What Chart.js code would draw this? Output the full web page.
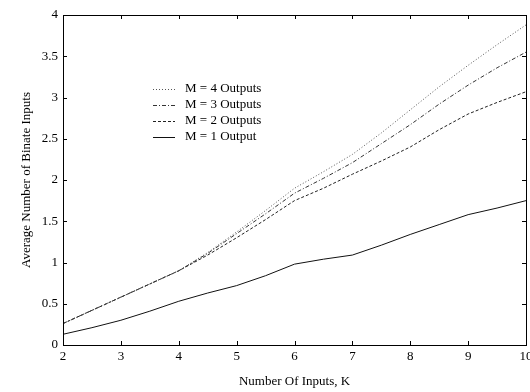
<!DOCTYPE html>
<html>
<head>
<meta charset="utf-8">
<script src="https://cdn.jsdelivr.net/npm/chart.js@4/dist/chart.umd.min.js"></script>
<style>
html,body{margin:0;padding:0;background:#fff;}
canvas{display:block;}
</style>
</head>
<body>
<canvas id="c" width="530" height="392"></canvas>
<script>
const kValues = [2, 2.5, 3, 3.5, 4, 4.5, 5, 5.5, 6, 6.5, 7, 7.5, 8, 8.5, 9, 9.5, 10];
const m1 = [0.13, 0.21, 0.30, 0.41, 0.53, 0.63, 0.72, 0.84, 0.98, 1.04, 1.09, 1.21, 1.34, 1.46, 1.58, 1.66, 1.75];
const m2 = [0.26, 0.42, 0.58, 0.74, 0.90, 1.09, 1.30, 1.52, 1.75, 1.90, 2.07, 2.23, 2.40, 2.61, 2.80, 2.94, 3.07];
const m3 = [0.26, 0.42, 0.58, 0.74, 0.90, 1.11, 1.35, 1.59, 1.84, 2.02, 2.21, 2.44, 2.67, 2.92, 3.15, 3.36, 3.55];
const m4 = [0.26, 0.42, 0.58, 0.74, 0.90, 1.12, 1.37, 1.63, 1.90, 2.10, 2.31, 2.57, 2.85, 3.13, 3.39, 3.64, 3.88];
const seriesLabels = ['M = 4 Outputs', 'M = 3 Outputs', 'M = 2 Outputs', 'M = 1 Output'];
const yTicks = [0, 0.5, 1, 1.5, 2, 2.5, 3, 3.5, 4];
const xTicks = [2, 3, 4, 5, 6, 7, 8, 9, 10];

const FONT = 'Liberation Serif';
const pts = arr => kValues.map((k, i) => ({x: k, y: arr[i]}));

const styles = [
  {color: '#555', dash: [1, 2]},
  {color: '#333', dash: [4, 2, 1, 2]},
  {color: '#222', dash: [3, 2]},
  {color: '#111', dash: []}
];
const seriesData = [m4, m3, m2, m1];

const datasets = seriesData.map((d, i) => ({
  label: seriesLabels[i],
  data: pts(d),
  borderColor: styles[i].color,
  borderDash: styles[i].dash,
  borderWidth: 1,
  pointRadius: 0,
  fill: false,
  tension: 0
}));

const framePlugin = {
  id: 'frame',
  afterDatasetsDraw(chart) {
    const {ctx, chartArea: a, scales} = chart;
    ctx.save();
    ctx.strokeStyle = '#000';
    ctx.lineWidth = 1;
    ctx.setLineDash([]);
    ctx.strokeRect(Math.round(a.left) + 0.5, Math.round(a.top) + 0.5, Math.round(a.right - a.left), Math.round(a.bottom - a.top));
    const tl = 4;
    ctx.beginPath();
    xTicks.forEach(v => {
      const px = Math.round(scales.x.getPixelForValue(v)) + 0.5;
      ctx.moveTo(px, a.bottom); ctx.lineTo(px, a.bottom - tl);
      ctx.moveTo(px, a.top); ctx.lineTo(px, a.top + tl);
    });
    yTicks.forEach(v => {
      const py = Math.round(scales.y.getPixelForValue(v)) + 0.5;
      ctx.moveTo(a.left, py); ctx.lineTo(a.left + tl, py);
      ctx.moveTo(a.right, py); ctx.lineTo(a.right - tl, py);
    });
    ctx.stroke();

    // legend inside plot
    const lx0 = 153, lx1 = 175, tx = 185;
    const rows = [89, 105, 121, 137];
    ctx.font = '13px "' + FONT + '"';
    ctx.textBaseline = 'middle';
    ctx.textAlign = 'left';
    chart.data.datasets.forEach((ds, i) => {
      const y = rows[i] + 0.5;
      ctx.beginPath();
      ctx.strokeStyle = ds.borderColor;
      ctx.setLineDash(ds.borderDash);
      ctx.moveTo(lx0, y); ctx.lineTo(lx1, y);
      ctx.stroke();
      ctx.setLineDash([]);
      ctx.fillStyle = '#000';
      ctx.fillText(ds.label, tx, rows[i]);
    });
    ctx.restore();
  }
};

new Chart(document.getElementById('c'), {
  type: 'line',
  data: {datasets},
  options: {
    responsive: false,
    animation: false,
    devicePixelRatio: 1,
    layout: {padding: {top: 15, right: 4, left: 0, bottom: 0}},
    plugins: {legend: {display: false}, tooltip: {enabled: false}},
    scales: {
      x: {
        type: 'linear', min: 2, max: 10,
        afterBuildTicks: s => { s.ticks = xTicks.map(v => ({value: v})); },
        afterFit: s => { s.height = 47; s.paddingLeft = 0; s.paddingRight = 0; },
        grid: {display: false, drawTicks: false},
        border: {display: false},
        ticks: {color: '#000', font: {family: FONT, size: 13}, padding: 4, maxRotation: 0, autoSkip: false, callback: v => String(v)},
        title: {display: true, text: 'Number Of Inputs, K', color: '#000', font: {family: FONT, size: 13}, padding: {top: 0, bottom: 3}}
      },
      y: {
        type: 'linear', min: 0, max: 4,
        afterBuildTicks: s => { s.ticks = yTicks.map(v => ({value: v})); },
        afterFit: s => { s.width = 63; s.paddingTop = 0; s.paddingBottom = 0; },
        grid: {display: false, drawTicks: false},
        border: {display: false},
        ticks: {color: '#000', font: {family: FONT, size: 13}, padding: 5, autoSkip: false, callback: v => String(v)},
        title: {display: true, text: 'Average Number of Binate Inputs', color: '#000', font: {family: FONT, size: 13}, padding: {top: 19, bottom: 0}}
      }
    }
  },
  plugins: [framePlugin]
});
</script>
</body>
</html>
